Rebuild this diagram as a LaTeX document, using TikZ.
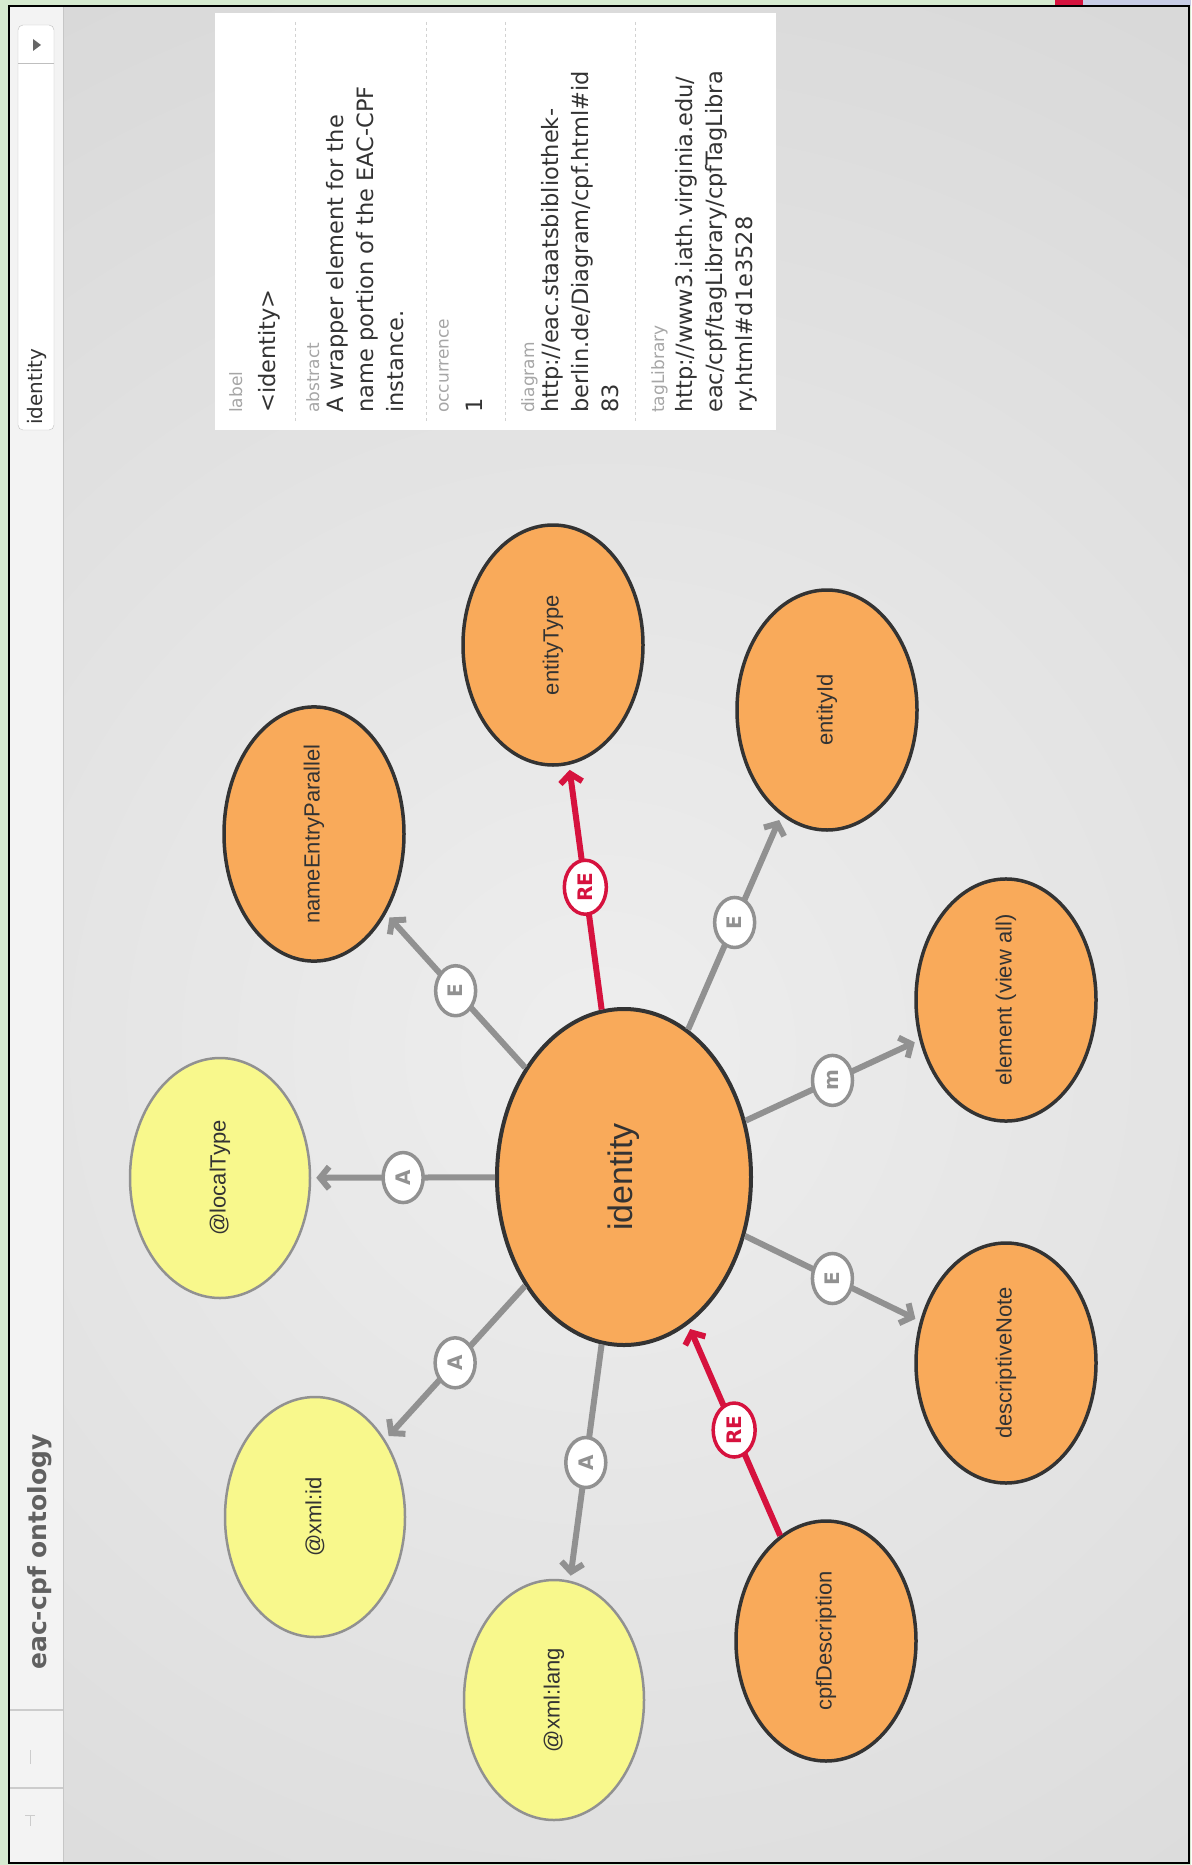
\documentclass[tikz,border=0pt]{standalone}
\usepackage{fontspec}
\setmainfont{DejaVu Sans}
\newfontfamily\nodefont{Liberation Sans}
\usetikzlibrary{arrows.meta,shapes.geometric}
\definecolor{framegreen}{RGB}{214,234,208}
\definecolor{bgdark}{RGB}{204,204,204}
\definecolor{bglight}{RGB}{238,238,238}
\definecolor{colgray}{RGB}{243,243,243}
\definecolor{elorange}{RGB}{249,170,90}
\definecolor{atyellow}{RGB}{248,248,140}
\definecolor{edgegray}{RGB}{145,145,145}
\definecolor{reqred}{RGB}{214,18,62}
\definecolor{textgray}{RGB}{51,51,51}
\definecolor{tabblue}{RGB}{200,205,230}

\begin{document}
\begin{tikzpicture}[x=1pt, y=-1pt,
  elnode/.style={ellipse, draw=textgray, line width=3.5pt, fill=elorange, inner sep=0pt,
    minimum width=240pt, minimum height=180pt, rotate=90,
    font=\nodefont\fontsize{22}{26}\selectfont, text=textgray},
  atnode/.style={elnode, draw=edgegray, line width=2.5pt, fill=atyellow},
  badge/.style={ellipse, draw=edgegray, line width=3.5pt, fill=white, inner sep=0pt,
    minimum width=50pt, minimum height=40pt, rotate=90,
    font=\bfseries\fontsize{20}{20}\selectfont, text=edgegray},
  rebadge/.style={badge, draw=reqred, text=reqred, minimum width=54pt, minimum height=42pt},
  sub/.style={draw=edgegray, line width=6pt, -{Straight Barb[length=9pt,width=22pt]}, shorten >=5pt},
  req/.style={sub, draw=reqred},
  paneltag/.style={rotate=90, anchor=north west, inner sep=0pt,
    font=\fontsize{17}{20}\selectfont, text=gray!70},
  paneltext/.style={rotate=90, anchor=north west, inner sep=0pt, align=left,
    font=\fontsize{22.5}{30}\selectfont, text=textgray}]
\useasboundingbox (0,0) rectangle (1191,1865);
% screen and frame
\fill[framegreen] (0,0) rectangle (1191,1865);
\fill[reqred] (1055,0) rectangle (1083,6);
\fill[tabblue] (1083,0) rectangle (1191,6);
\begin{scope}
  \clip (63,7) rectangle (1188,1862);
  \fill[bgdark] (63,7) rectangle (1188,1862);
  \shade[inner color=bglight, outer color=bgdark] (600,1050) circle (1900);
\end{scope}
% side bar
\fill[colgray] (10,7) rectangle (63,1862);
\draw[gray!45, line width=1pt] (63,7) -- (63,1862);
\draw[gray!50, fill=white, rounded corners=5pt] (18,25) rectangle (54,430);
\draw[gray!50] (18,63) -- (54,63);
\fill[gray!80!black] (33,39) -- (41,45) -- (33,51) -- cycle;
\node[rotate=90, anchor=west, inner sep=0pt, font=\fontsize{20}{24}\selectfont, text=textgray] (pickname) at (37,425) {identity};
\node[rotate=90, font=\bfseries\fontsize{25}{30}\selectfont, text=gray!75!black] (title) at (40,1552) {eac-cpf ontology};
\draw[gray!40, line width=1.5pt] (10,1710) -- (63,1710);
\draw[gray!40, line width=1.5pt] (10,1788) -- (63,1788);
\draw[gray!40] (30,1750) -- (30,1764);
\draw[gray!40] (25,1815) -- (35,1815) (30,1815) -- (30,1826);
\draw[black, line width=2pt] (9,6) rectangle (1189,1863);
% info panel
\fill[white] (215,13) rectangle (776,430);
\foreach \xs in {295,426,505,635}
  \draw[gray!35, dashed, line width=1pt] (\xs,22) -- (\xs,422);
\node[paneltag] (labtag) at (229,413) {label};
\node[paneltext] (labtext) at (258,413) {<identity>};
\node[paneltag] (abstag) at (306,413) {abstract};
\node[paneltext] (abstext) at (326,413) {A wrapper element for the\\name portion of the EAC-CPF\\instance.};
\node[paneltag] (occtag) at (439,413) {occurrence};
\node[paneltext] (occtext) at (466,413) {1};
\node[paneltag] (diatag) at (521,413) {diagram};
\node[paneltext] (diatext) at (541,413) {http://eac.staatsbibliothek-\\berlin.de/Diagram/cpf.html\#id\\83};
\node[paneltag] (tagtag) at (651,413) {tagLibrary};
\node[paneltext] (tagtext) at (675,413) {http://www3.iath.virginia.edu/\\eac/cpf/tagLibrary/cpfTagLibra\\ry.html\#d1e3528};
% ontology nodes
\node[elnode, minimum width=336pt, minimum height=254pt, line width=4pt,
  font=\nodefont\fontsize{34}{38}\selectfont] (identity) at (624,1177) {identity};
\node[atnode] (localtype) at (220,1178) {@localType};
\node[atnode] (xmlid) at (315,1517) {@xml:id};
\node[atnode] (xmllang) at (554,1700) {@xml:lang};
\node[elnode] (cpfdesc) at (826,1641) {cpfDescription};
\node[elnode] (descnote) at (1006,1363) {descriptiveNote};
\node[elnode] (viewall) at (1006,1000) {element (view all)};
\node[elnode] (entityid) at (827,710) {entityId};
\node[elnode] (entitytype) at (553,645) {entityType};
\node[elnode] (nameentry) at (314,834) {nameEntryParallel};
% relations
\draw[sub] (identity) -- node[badge] {A} (localtype);
\draw[sub] (identity) -- node[badge] {A} (xmlid);
\draw[sub] (identity) -- node[badge] {A} (xmllang);
\draw[sub] (identity) -- node[badge] {E} (descnote);
\draw[sub] (identity) -- node[badge] {m} (viewall);
\draw[sub] (identity) -- node[badge] {E} (entityid);
\draw[sub] (identity) -- node[badge] {E} (nameentry);
\draw[req] (identity) -- node[rebadge] {RE} (entitytype);
\draw[req] (cpfdesc) -- node[rebadge] {RE} (identity);
\end{tikzpicture}
\end{document}
